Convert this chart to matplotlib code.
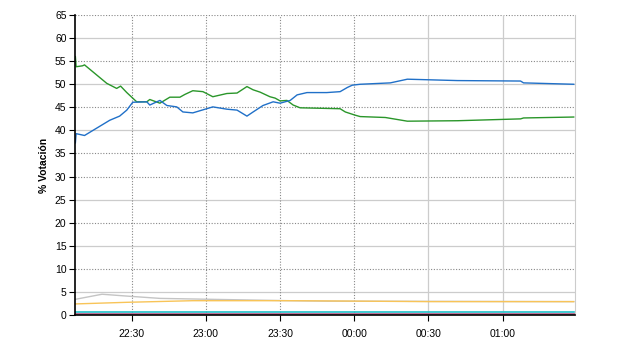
import matplotlib
matplotlib.use("Agg")
import matplotlib.pyplot as plt

# minutes after 22:00
blue_t = [7.2, 7.5, 10.9, 21.1, 25.1, 28.0, 30.4, 36.1, 37.3, 41.4, 44.2, 48.2, 50.7, 54.7,
          62.8, 68.5, 72.6, 76.6, 79.1, 83.1, 87.2, 90.0, 94.1, 96.9, 100.9, 108.9, 114.3,
          117.2, 119.2, 122.4, 134.6, 141.5, 161.8, 187.3, 188.5, 208.8]
blue_v = [37.3, 39.3, 38.9, 42.2, 43.1, 44.4, 46.1, 46.2, 45.5, 46.5, 45.4, 45.1, 44.0, 43.8,
          45.1, 44.6, 44.4, 43.1, 44.0, 45.4, 46.2, 45.9, 46.5, 47.7, 48.2, 48.2, 48.4,
          49.3, 49.8, 50.0, 50.3, 51.1, 50.8, 50.7, 50.3, 50.0]

green_t = [7.2, 7.5, 10.1, 10.9, 19.9, 23.9, 25.5, 28.0, 32.0, 36.1, 37.3, 41.4, 45.4, 49.5,
           51.5, 54.7, 58.8, 62.8, 68.5, 72.6, 76.6, 79.1, 81.9, 85.9, 88.0, 90.0, 92.8,
           95.3, 98.1, 114.3, 116.4, 120.4, 122.4, 132.6, 141.5, 161.8, 187.3, 188.5, 208.8]
green_v = [56.0, 53.8, 54.0, 54.2, 50.2, 49.1, 49.6, 48.2, 46.2, 46.2, 46.7, 45.9, 47.2, 47.2,
           47.8, 48.6, 48.4, 47.3, 48.0, 48.1, 49.5, 48.8, 48.3, 47.3, 47.0, 46.4, 46.5,
           45.5, 44.9, 44.7, 44.0, 43.3, 43.0, 42.8, 42.0, 42.1, 42.5, 42.7, 42.9]

gray_t = [7.2, 18.0, 28.0, 41.4, 62.0, 94.0, 109.0, 208.8]
gray_v = [3.4, 4.5, 4.1, 3.6, 3.4, 3.1, 3.0, 2.9]

orange_t = [7.2, 28.0, 54.7, 95.0, 150.0, 208.8]
orange_v = [2.4, 2.75, 3.1, 3.1, 2.9, 2.9]

cyan_t = [7.2, 208.8]
cyan_v = [0.6, 0.6]
pink_t = [7.2, 208.8]
pink_v = [0.3, 0.3]
dark_t = [7.2, 208.8]
dark_v = [0.12, 0.12]

tick_pos = [30, 60, 90, 120, 150, 180]
tick_labels = ["22:30", "23:00", "23:30", "00:00", "00:30", "01:00"]
yticks = list(range(0, 66, 5))

plt.rcParams['font.family'] = ['Liberation Sans', 'DejaVu Sans']
fig = plt.figure(figsize=(6.4, 3.5), dpi=100)
ax = fig.add_axes([0.117, 0.1, 0.781, 0.857])
ax.set_xlim(7.0, 209.2)
ax.set_ylim(0, 65)

# grid
dotted_y = [65, 55, 45, 35, 30, 20, 10]
for y in yticks[1:]:
    if y in dotted_y:
        ax.axhline(y, color="#888888", lw=0.8, ls=(0, (1, 1.5)), zorder=0)
    else:
        ax.axhline(y, color="#cccccc", lw=0.9, zorder=0)
for i, x in enumerate(tick_pos):
    if i < 4:
        ax.axvline(x, color="#888888", lw=0.8, ls=(0, (1, 1.5)), zorder=0)
    else:
        ax.axvline(x, color="#cccccc", lw=0.9, zorder=0)

ax.plot(gray_t, gray_v, color="#c4c4c4", lw=1.0)
ax.plot(orange_t, orange_v, color="#f8c458", lw=1.0)
ax.plot(dark_t, dark_v, color="#6a1040", lw=1.2)
ax.plot(pink_t, pink_v, color="#d07aa0", lw=1.2)
ax.plot(cyan_t, cyan_v, color="#20c0c8", lw=1.2)
ax.plot(green_t, green_v, color="#2a962a", lw=1.0)
ax.plot(blue_t, blue_v, color="#2070c8", lw=1.0)

ax.set_xticks(tick_pos)
ax.set_xticklabels(tick_labels)
ax.set_yticks(yticks)
ax.tick_params(axis="both", labelsize=7.5, length=4, width=0.8, color="black", direction="out")
ax.tick_params(axis="x", pad=6)
ax.tick_params(axis="y", pad=2)
ax.set_ylabel("% Votación", fontsize=7.5, fontweight="bold", labelpad=4)

ax.spines["top"].set_visible(False)
ax.spines["right"].set_color("#cccccc")
ax.spines["left"].set_linewidth(1.2)
ax.spines["bottom"].set_linewidth(1.2)

fig.savefig("out.png", dpi=100)
